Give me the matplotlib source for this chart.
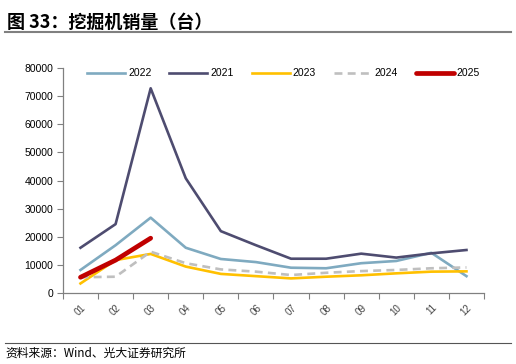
import matplotlib
matplotlib.use('Agg')
import matplotlib.pyplot as plt
from matplotlib.lines import Line2D

plt.rcParams['font.family'] = ['Liberation Sans', 'Noto Sans CJK SC', 'DejaVu Sans']

######################## - DATA - #############################
months = ['01', '02', '03', '04', '05', '06', '07', '08', '09', '10', '11', '12']
sales_2022 = [8200, 17000, 26800, 16100, 12100, 11000, 9000, 8800, 10600, 11400, 14300, 6000]
sales_2021 = [16100, 24500, 72800, 40800, 22000, 17000, 12200, 12200, 14000, 12600, 14100, 15300]
sales_2023 = [3400, 11700, 13900, 9400, 6800, 6000, 5200, 5800, 6300, 7000, 7600, 7700]
sales_2024 = [5600, 5800, 14700, 10600, 8400, 7600, 6400, 7200, 7800, 8200, 8800, 9100]
sales_2025 = [5600, 11700, 19500]
yticks = [0, 10000, 20000, 30000, 40000, 50000, 60000, 70000, 80000]

TITLE = '图 33：挖掘机销量（台）'
SOURCE = '资料来源：Wind、光大证券研究所'

######################### - Main - ###############################
fig = plt.figure(figsize=(5.16, 3.64), dpi=100)
ax = fig.add_axes([0.122, 0.195, 0.816, 0.618])

x = range(len(months))
ax.plot(x, sales_2022, color='#7FAAC0', lw=1.9, label='2022')
ax.plot(x, sales_2021, color='#4E4C70', lw=1.9, label='2021')
ax.plot(x, sales_2023, color='#FFC000', lw=1.9, label='2023')
ax.plot(x, sales_2024, color='#BFBFBF', lw=1.9, ls=(0, (3, 2)), label='2024')
ax.plot(range(len(sales_2025)), sales_2025, color='#C00000', lw=3.4,
        solid_capstyle='round', label='2025')

ax.set_xlim(-0.5, len(months) - 0.5)
ax.set_ylim(0, 80000)
ax.set_yticks(yticks)
ax.set_yticklabels([str(v) for v in yticks], fontsize=7.5)
ax.set_xticks(list(x))
ax.set_xticklabels(months, rotation=45, fontsize=7, color='#444444')
ax.set_xticks([i - 0.5 for i in range(len(months) + 1)], minor=True)
ax.tick_params(axis='x', which='major', length=0, pad=7)
ax.tick_params(axis='x', which='minor', length=4, color='#808080', width=0.8)
ax.tick_params(axis='y', length=4, color='#808080', width=0.8, pad=3)

for side in ['top', 'right']:
    ax.spines[side].set_visible(False)
for side in ['left', 'bottom']:
    ax.spines[side].set_color('#808080')
    ax.spines[side].set_linewidth(0.9)

ax.legend(loc='upper center', bbox_to_anchor=(0.524, 1.04), ncol=5, frameon=False,
          fontsize=7.5, handlelength=3.65, handletextpad=0.3, columnspacing=1.7)

# title + rules
fig.text(0.013, 0.965, TITLE, fontsize=13, fontweight='bold', va='top', ha='left',
         family=['Noto Sans CJK SC', 'DejaVu Sans'])
fig.add_artist(Line2D([0.01, 0.99], [0.912, 0.912], color='#808080', lw=1.5))
fig.add_artist(Line2D([0.01, 0.99], [0.057, 0.057], color='#555555', lw=0.8))
fig.text(0.01, 0.048, SOURCE, fontsize=8.5, va='top', ha='left',
         family=['Noto Sans CJK SC', 'DejaVu Sans'])

fig.savefig('out.png', dpi=100)
